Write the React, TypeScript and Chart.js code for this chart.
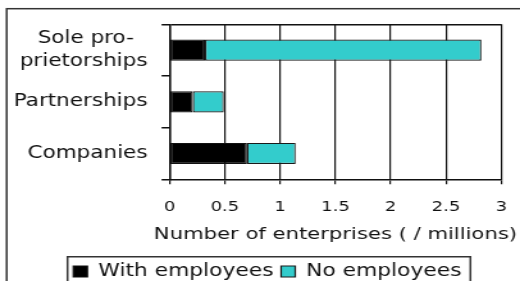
import React, { useEffect, useRef } from 'react';
import { Chart, registerables } from 'chart.js';

Chart.register(...registerables);

const categories: (string | string[])[] = [['Sole pro-  ', 'prietorships'], 'Partnerships', 'Companies'];
const seriesNames = ['With employees', 'No employees'];
const withEmployees = [0.32, 0.21, 0.70];
const noEmployees = [2.5, 0.28, 0.44];
const xTickValues = [0, 0.5, 1, 1.5, 2, 2.5, 3];
const xTickLabels = ['0', '0.5', '1', '1.5', '2', '2.5', '3'];
const xAxisTitle = 'Number of enterprises ( / millions)';

const W = 406;
const H = 290;
const SX = 520 / W;
const FAMILY = '"DejaVu Sans", Verdana, sans-serif';
const INK = '#111';

const framePlugin = {
  id: 'frame',
  beforeDraw(chart: any) {
    const ctx = chart.ctx;
    ctx.save();
    ctx.fillStyle = '#fff';
    ctx.fillRect(0, 0, chart.width, chart.height);
    ctx.strokeStyle = '#333';
    ctx.lineWidth = 1.5;
    ctx.strokeRect(5.2, 8.7, 1000, 1000);
    ctx.restore();
  },
  afterDraw(chart: any) {
    const ctx = chart.ctx;
    // x-axis title, centred under the plot area (may overhang it like the reference)
    const area = chart.chartArea;
    ctx.save();
    ctx.fillStyle = INK;
    ctx.font = `16.5px ${FAMILY}`;
    ctx.textAlign = 'center';
    ctx.textBaseline = 'middle';
    ctx.fillText(xAxisTitle, (area.left + area.right) / 2, 234.5);
    ctx.restore();

    const hb = chart.legend && chart.legend.legendHitBoxes;
    if (!hb || !hb.length) return;
    const first = hb[0];
    const last = hb[hb.length - 1];
    const l = first.left - 4.5;
    const r = last.left + last.width + 7;
    const t = first.top - 6.3;
    ctx.save();
    ctx.strokeStyle = '#333';
    ctx.lineWidth = 1.5;
    ctx.beginPath();
    ctx.moveTo(l, chart.height + 10);
    ctx.lineTo(l, t);
    ctx.lineTo(r, t);
    ctx.lineTo(r, chart.height + 10);
    ctx.stroke();
    ctx.restore();
  },
};

export default function App() {
  const ref = useRef<HTMLCanvasElement | null>(null);

  useEffect(() => {
    if (!ref.current) return;
    const chart = new Chart(ref.current, {
      type: 'bar',
      data: {
        labels: categories,
        datasets: [
          {
            label: seriesNames[0],
            data: withEmployees,
            backgroundColor: '#000000',
            borderColor: '#111111',
            borderWidth: 1.2,
            borderSkipped: false,
            barPercentage: 0.41,
            categoryPercentage: 1,
          },
          {
            label: seriesNames[1],
            data: noEmployees,
            backgroundColor: '#33CCCC',
            borderColor: '#1a1a1a',
            borderWidth: 1.2,
            borderSkipped: false,
            barPercentage: 0.41,
            categoryPercentage: 1,
          },
        ],
      },
      options: {
        indexAxis: 'y',
        responsive: false,
        animation: false,
        layout: { padding: { left: 10, right: -1.5, top: 24.3, bottom: 0 } },
        plugins: {
          tooltip: { enabled: false },
          legend: {
            position: 'bottom',
            labels: {
              boxWidth: 11,
              boxHeight: 11,
              padding: 6,
              font: { family: FAMILY, size: 17 },
              color: INK,
            },
          },
        },
        scales: {
          x: {
            stacked: true,
            min: 0,
            max: 3,
            afterBuildTicks: (s: any) => {
              s.ticks = xTickValues.map((v) => ({ value: v }));
            },
            afterFit: (s: any) => {
              s.height = 77.7;
              s.paddingLeft = 0;
              s.paddingRight = 14.6;
            },
            ticks: {
              autoSkip: false,
              maxRotation: 0,
              padding: 14.3,
              color: INK,
              font: { family: FAMILY, size: 14 },
              callback: (_v: any, i: number) => xTickLabels[i],
            },
            grid: { color: INK, lineWidth: 1.2, tickLength: 5 },
            border: { color: INK, width: 1.5 },
            title: { display: false },
          },
          y: {
            stacked: true,
            afterFit: (s: any) => {
              s.width = 122.4;
            },
            ticks: {
              padding: 11,
              color: INK,
              font: { family: FAMILY, size: 16.8, lineHeight: 1.35 },
            },
            grid: {
              offset: true,
              color: (c: any) => (c.index === 0 ? INK : 'rgba(0,0,0,0)'),
              tickColor: INK,
              lineWidth: 1.5,
              tickLength: 6.25,
            },
            border: { color: INK, width: 1.5 },
          },
        },
      },
      plugins: [framePlugin],
    } as any);
    return () => chart.destroy();
  }, []);

  return (
    <div
      style={{
        position: 'absolute',
        left: 0,
        top: 0,
        width: 520,
        height: 281,
        overflow: 'hidden',
        background: '#fff',
      }}
    >
      <canvas
        ref={ref}
        width={W}
        height={H}
        style={{
          display: 'block',
          width: W,
          height: H,
          transform: `scaleX(${SX})`,
          transformOrigin: '0 0',
        }}
      />
    </div>
  );
}
